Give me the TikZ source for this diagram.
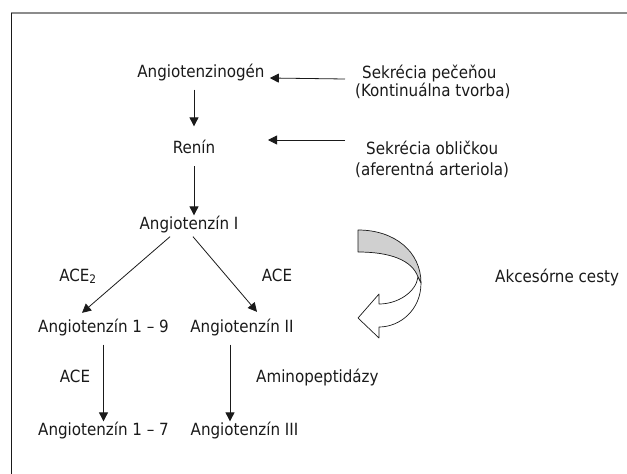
\documentclass[tikz,border=0pt]{standalone}
\usepackage{fontspec}
\setmainfont{DejaVu Sans Condensed}
\usetikzlibrary{arrows.meta,calc}
\definecolor{inkc}{HTML}{1A1A1A}
\definecolor{edgec}{HTML}{8C8C8C}
\definecolor{bandc}{HTML}{D0D0D0}
\newcommand{\rasfont}{\fontsize{16.8}{19}\selectfont}
\tikzset{
  lbl/.style={inner sep=0pt, anchor=base, font=\rasfont, text=inkc},
  lblw/.style={inner sep=0pt, anchor=base west, font=\rasfont, text=inkc},
  link/.style={-{Triangle[length=9pt,width=9pt]}, draw=inkc, line width=0.8pt},
  band/.style={draw=inkc, line width=0.7pt, line join=round},
}

\begin{document}
\begin{tikzpicture}[x=1pt,y=-1pt]
  \useasboundingbox (0,0) rectangle (627,474);
  \draw[edgec, line width=1.6pt] (11,13) -- (627,13);
  \draw[inkc, line width=0.8pt] (11,13) -- (11,474);

  \node[lbl] (ango)  at (201,77)  {Angiotenzinogén};
  \node[lbl] (renin) at (194,153) {Renín};
  \node[lbl] (ang1)  at (189,229) {Angiotenzín I};
  \node[lbl] (ang19) at (103.5,332) {Angiotenzín 1 – 9};
  \node[lbl] (ang2)  at (242,332) {Angiotenzín II};
  \node[lbl] (ang17) at (103.5,435) {Angiotenzín 1 – 7};
  \node[lbl] (ang3)  at (244.5,435) {Angiotenzín III};
  \node[lbl] (ace2)  at (78,281)  {ACE\textsubscript{2}};
  \node[lbl] (acer)  at (277,281) {ACE};
  \node[lbl] (acel)  at (75,382)  {ACE};
  \node[lblw] (amino) at (256,382) {Aminopeptidázy};
  \node[lblw] (sek1) at (362,78)  {Sekrécia pečeňou};
  \node[lblw] (kont) at (355,96)  {(Kontinuálna tvorba)};
  \node[lblw] (sek2) at (366,154) {Sekrécia obličkou};
  \node[lblw] (afer) at (355,175) {(aferentná arteriola)};
  \node[lblw] (akc)  at (495,282) {Akcesórne cesty};
  \coordinate (reninin) at (268,140);

  \draw[link, shorten <=9pt, shorten >=13pt] (ango.south -| renin.north) -- (renin.north);
  \draw[link, shorten <=13pt] (renin.south) -- (renin.south |- ang1.north);
  \draw[link] ([xshift=-19pt,yshift=-4pt]ang1.south) -- ([xshift=-21.5pt,yshift=5.5pt]ang19.north);
  \draw[link] ([xshift=4pt,yshift=-4pt]ang1.south) -- ([xshift=15pt,yshift=6.5pt]ang2.north);
  \draw[link, shorten <=9pt] (ang19.south) -- (ang19.south |- ang17.north);
  \draw[link, shorten <=9pt] ([xshift=-12pt]ang2.south) -- ([xshift=-12pt]ang2.south |- ang3.north);
  \draw[link] ([xshift=-17pt,yshift=-1pt]sek1.base west) -- ([xshift=5pt,yshift=-1pt]ango.base east);
  \draw[link] ([xshift=-21pt]sek2.west |- reninin) -- (reninin);

  \path[band, fill=bandc] (358,230) .. controls (395,230) and (421,252) .. (421,283)
    -- (418,277) .. controls (412,260) and (390,252) .. (358,252) -- cycle;
  \path[band, fill=white] (418,277) .. controls (416,292) and (398,304) .. (379,304)
    -- (379,294) -- (358,318) -- (379,338) -- (379,327)
    .. controls (400,327) and (421,310) .. (421,283) -- cycle;
\end{tikzpicture}
\end{document}
